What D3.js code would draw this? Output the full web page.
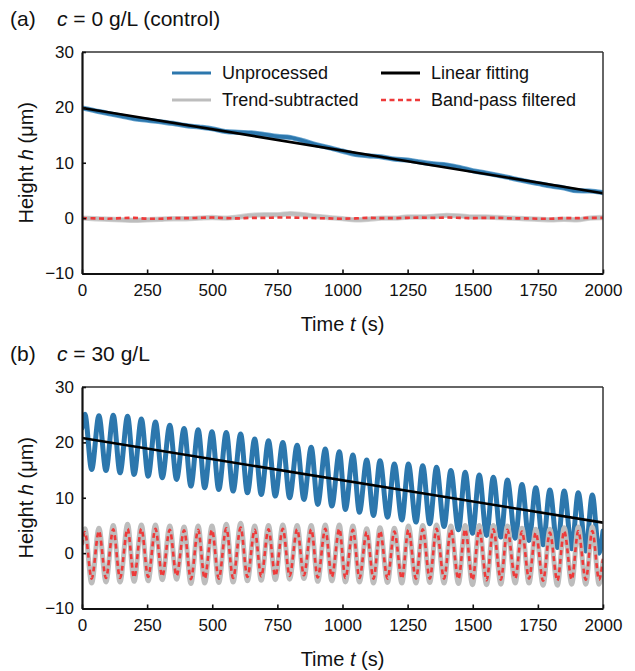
<!DOCTYPE html>
<html>
<head>
<meta charset="utf-8">
<script src="https://cdn.jsdelivr.net/npm/d3@7"></script>
<style>
  html, body { margin: 0; padding: 0; background: #fff; }
  svg { display: block; font-family: "Liberation Sans", Arial, Helvetica, sans-serif; }
</style>
</head>
<body>
<svg id="chart" width="635" height="671"></svg>
<script>
// ---------- data ----------
const xTickValues = [0, 250, 500, 750, 1000, 1250, 1500, 1750, 2000];
const yTickValues = [-10, 0, 10, 20, 30];

// Panel (a) control
const aTime = [0,50,100,150,200,250,300,350,400,450,500,550,600,650,700,750,800,850,900,950,1000,
  1050,1100,1150,1200,1250,1300,1350,1400,1450,1500,1550,1600,1650,1700,1750,1800,1850,1900,1950,2000];
const aUnprocessed = [19.9,19.4,18.9,18.45,17.95,17.7,17.4,17.1,16.7,16.45,16.15,15.65,15.5,15.4,15.1,14.75,14.55,13.95,13.25,12.7,12.1,
  11.5,11.25,11.05,10.65,10.5,10.1,9.8,9.6,9.15,8.55,8.15,7.7,7.2,6.7,6.25,5.8,5.45,4.95,4.9,4.6];
const aTrend = [0,-0.1,-0.2,-0.3,-0.4,-0.3,-0.2,-0.1,-0.1,0,0.1,0,0.2,0.5,0.6,0.6,0.8,0.6,0.3,0.1,-0.1,
  -0.3,-0.2,0,0,0.2,0.2,0.3,0.5,0.4,0.2,0.2,0.1,0,-0.1,-0.2,-0.3,-0.2,-0.3,0,0.1];
const aFiltered = [0,-0.05,-0.1,0,0.05,-0.1,-0.1,0,0,0.05,0.1,0,-0.05,0.05,0.05,0.1,0.1,0.05,0,-0.05,-0.1,
  -0.05,0.05,0,0,0.05,0.1,0.05,0.1,0.05,0,0.05,0.05,-0.05,-0.05,-0.1,-0.1,0,0,0.05,0.05];
const aFitTime = [0, 2000];
const aFit = [19.9, 4.5];

// Panel (b) c = 30 g/L  (extrema)
const bTime = [0,11,37,65,92,120,146,175,200,228,254,282,308,337,363,392,418,446,471,499,525,554,580,609,635,663,688,716,742,771,797,
  826,852,880,905,934,959,988,1011,1040,1065,1093,1119,1144,1173,1199,1228,1253,1282,1308,1335,1361,1390,1416,1445,1471,1499,
  1525,1553,1579,1608,1633,1663,1689,1716,1742,1770,1796,1825,1851,1880,1905,1934,1959,1985,2000];
const bUnprocessed = [22.6,25.1,15.1,24.8,14.9,24.9,14.5,24.7,14.2,24.2,13.9,23.7,13.6,23.1,13.3,22.5,12.1,22.3,11.8,21.9,11.5,21.8,11.2,21.5,10.9,20.6,10.6,20.3,10.3,20.0,10.0,
  19.5,9.7,19.1,8.8,18.8,8.5,18.3,7.9,17.7,7.4,16.8,6.8,16.7,6.5,16.1,6.0,16.1,5.6,15.8,5.3,15.5,4.8,14.9,4.2,14.6,3.6,
  14.1,3.2,13.7,2.9,13.2,2.7,12.4,2.3,11.8,1.5,11.4,1.0,11.2,0.8,10.9,0.4,10.5,0.0,4.0];
const bTrend = [1.8,4.4,-5.4,4.5,-5.2,5.0,-5.2,5.2,-5.1,5.1,-5.0,5.1,-4.8,4.9,-4.7,4.7,-5.5,4.9,-5.4,4.9,-5.3,5.2,-5.2,5.4,-5.0,4.9,-4.9,5.0,-4.8,5.1,-4.7,
  5.0,-4.6,5.0,-5.1,5.1,-5.0,5.1,-5.2,4.9,-5.2,4.4,-5.4,4.6,-5.3,4.5,-5.4,4.9,-5.4,5.0,-5.3,5.1,-5.4,4.9,-5.5,5.0,-5.7,
  5.0,-5.7,5.0,-5.6,4.9,-5.4,4.5,-5.4,4.3,-5.8,4.3,-5.8,4.6,-5.6,4.7,-5.6,4.7,-5.6,-1.5];
const bFiltered = [1.5,3.8,-4.6,4.0,-4.5,4.3,-4.5,4.4,-4.4,4.4,-4.3,4.4,-4.2,4.2,-4.1,4.1,-4.7,4.2,-4.6,4.2,-4.6,4.5,-4.5,4.6,-4.3,4.2,-4.2,4.3,-4.1,4.4,-4.1,
  4.3,-4.0,4.3,-4.4,4.4,-4.3,4.4,-4.5,4.2,-4.5,3.8,-4.6,4.0,-4.6,3.9,-4.6,4.2,-4.6,4.3,-4.6,4.4,-4.6,4.2,-4.7,4.3,-4.9,
  4.3,-4.9,4.3,-4.8,4.2,-4.6,3.9,-4.6,3.7,-5.0,3.7,-5.0,4.0,-4.8,4.0,-4.8,4.0,-4.8,-1.0];
const bFitTime = [0, 2000];
const bFit = [20.8, 5.5];

const seriesNames = ["Unprocessed", "Trend-subtracted", "Linear fitting", "Band-pass filtered"];
const colors = { blue: "#2c77ad", blueHalo: "#6aa5cf", gray: "#bdbdbd", grayHalo: "#d6d6d6", black: "#000000", red: "#ee3a3a" };

// ---------- drawing ----------
const svg = d3.select("#chart");
const left = 82, right = 603;
const x = d3.scaleLinear().domain([0, 2000]).range([left, right]);

function zip(t, v) { return t.map((d, i) => ({ t: d, v: v[i] })); }

function panel(opts) {
  const y = d3.scaleLinear().domain([-10, 30]).range([opts.bottom, opts.top]);
  const g = svg.append("g");
  const clipId = "clip" + opts.id;
  svg.append("clipPath").attr("id", clipId).append("rect")
    .attr("x", left).attr("y", opts.top).attr("width", right - left).attr("height", opts.bottom - opts.top);

  const lineGen = (curve) => d3.line().x(d => x(d.t)).y(d => y(d.v)).curve(curve);
  const plot = g.append("g").attr("clip-path", `url(#${clipId})`);
  opts.series.forEach(s => {
    if (s.halo) {
      plot.append("path").datum(zip(s.t, s.v))
        .attr("fill", "none").attr("stroke", s.halo).attr("stroke-width", s.width + 1.6)
        .attr("stroke-linejoin", "round").attr("stroke-linecap", "round")
        .attr("d", lineGen(s.curve));
    }
    plot.append("path").datum(zip(s.t, s.v))
      .attr("fill", "none").attr("stroke", s.color).attr("stroke-width", s.width)
      .attr("stroke-dasharray", s.dash || null)
      .attr("stroke-linejoin", "round").attr("stroke-linecap", s.dash ? "butt" : "round")
      .attr("d", lineGen(s.curve));
  });

  // frame top/right
  g.append("line").attr("x1", left).attr("x2", right).attr("y1", opts.top).attr("y2", opts.top)
    .attr("stroke", "#333").attr("stroke-width", 1.5);
  g.append("line").attr("x1", right).attr("x2", right).attr("y1", opts.top).attr("y2", opts.bottom)
    .attr("stroke", "#333").attr("stroke-width", 1.5);

  // axes
  const xAxis = d3.axisBottom(x).tickValues(xTickValues).tickSizeInner(-4).tickSizeOuter(0).tickPadding(10).tickFormat(d3.format("d"));
  const gx = g.append("g").attr("transform", `translate(0,${opts.bottom})`).call(xAxis);
  const yAxis = d3.axisLeft(y).tickValues(yTickValues).tickSizeInner(-4).tickSizeOuter(0).tickPadding(8).tickFormat(d3.format("d"));
  const gy = g.append("g").attr("transform", `translate(${left},0)`).call(yAxis);
  [gx, gy].forEach(a => {
    a.select(".domain").attr("stroke", "#111").attr("stroke-width", 2.2);
    a.selectAll(".tick line").attr("stroke", "#111").attr("stroke-width", 1.6);
    a.selectAll("text").attr("font-size", 17).attr("fill", "#111").attr("font-family", "Liberation Sans, Arial, sans-serif");
  });

  // axis titles
  const xt = g.append("text").attr("x", (left + right) / 2).attr("y", opts.bottom + 57)
    .attr("text-anchor", "middle").attr("font-size", 20).attr("fill", "#111");
  xt.append("tspan").text("Time ");
  xt.append("tspan").attr("font-style", "italic").text("t");
  xt.append("tspan").text(" (s)");

  const yt = g.append("text")
    .attr("transform", `translate(33,${(opts.top + opts.bottom) / 2}) rotate(-90)`)
    .attr("text-anchor", "middle").attr("font-size", 20).attr("fill", "#111");
  yt.append("tspan").text("Height ");
  yt.append("tspan").attr("font-style", "italic").text("h");
  yt.append("tspan").text(" (μm)");

  // panel title
  const tt = svg.append("text").attr("x", 10).attr("y", opts.titleY).attr("font-size", 21).attr("fill", "#111");
  tt.append("tspan").text(opts.label);
  tt.append("tspan").attr("x", 57).attr("font-style", "italic").text("c");
  tt.append("tspan").text(opts.title);
  return y;
}

panel({
  id: "a", top: 52, bottom: 273.5, titleY: 26, label: "(a)", title: " = 0 g/L (control)",
  series: [
    { t: aTime, v: aUnprocessed, color: colors.blue, halo: colors.blueHalo, width: 3.6, curve: d3.curveMonotoneX },
    { t: aFitTime, v: aFit, color: colors.black, width: 2.6, curve: d3.curveLinear },
    { t: aTime, v: aTrend, color: colors.gray, halo: colors.grayHalo, width: 3.8, curve: d3.curveMonotoneX },
    { t: aTime, v: aFiltered, color: colors.red, width: 2.6, dash: "5,3.5", curve: d3.curveMonotoneX }
  ]
});

panel({
  id: "b", top: 387, bottom: 608.5, titleY: 361, label: "(b)", title: " = 30 g/L",
  series: [
    { t: bTime, v: bUnprocessed, color: colors.blue, width: 5, curve: d3.curveMonotoneX },
    { t: bFitTime, v: bFit, color: colors.black, width: 2.6, curve: d3.curveLinear },
    { t: bTime, v: bTrend, color: colors.gray, width: 5, curve: d3.curveMonotoneX },
    { t: bTime, v: bFiltered, color: colors.red, width: 2.6, dash: "5,3.5", curve: d3.curveMonotoneX }
  ]
});

// legend (panel a)
const legendItems = [
  { name: seriesNames[0], color: colors.blue, width: 3, x: 172, y: 73 },
  { name: seriesNames[1], color: colors.gray, width: 3, x: 172, y: 100 },
  { name: seriesNames[2], color: colors.black, width: 3, x: 381, y: 73 },
  { name: seriesNames[3], color: colors.red, width: 2.6, dash: "5,3.5", x: 381, y: 100 }
];
const lg = svg.append("g");
legendItems.forEach(it => {
  lg.append("line").attr("x1", it.x).attr("x2", it.x + 39).attr("y1", it.y).attr("y2", it.y)
    .attr("stroke", it.color).attr("stroke-width", it.width).attr("stroke-dasharray", it.dash || null);
  lg.append("text").attr("x", it.x + 50).attr("y", it.y).attr("dy", "0.35em")
    .attr("font-size", 18).attr("fill", "#111").text(it.name);
});
</script>
</body>
</html>
